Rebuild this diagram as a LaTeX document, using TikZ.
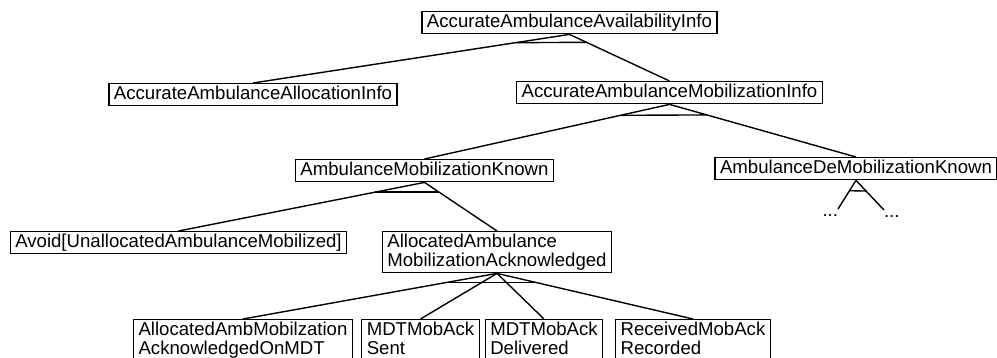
\documentclass[tikz,border=0pt]{standalone}
\usepackage{fontspec}
\setmainfont{Liberation Sans}
\usetikzlibrary{calc}

\begin{document}
\begin{tikzpicture}[x=0.5pt,y=-0.5pt,line width=0.7pt]
	\tikzstyle{goal}=[rectangle,draw,anchor=north,inner xsep=2.5pt,inner ysep=1pt,text height=7pt,text depth=2pt,font=\fontsize{9.3}{9.5}\selectfont]
	\tikzstyle{goaltwo}=[goal,align=left,text height=16.5pt]
	\tikzstyle{dots}=[inner sep=0pt,outer xsep=0pt,outer ysep=3pt,font=\fontsize{9.3}{9.5}\selectfont]
	\useasboundingbox (0,0) rectangle (997,358);
	\node[goal] (avail) at (569.5,11){AccurateAmbulanceAvailabilityInfo};
	\node[goal] (alloc) at (253,83){AccurateAmbulanceAllocationInfo};
	\node[goal] (mobinfo) at (669.5,81){AccurateAmbulanceMobilizationInfo};
	\node[goal] (mobknown) at (424.5,159){AmbulanceMobilizationKnown};
	\node[goal] (demob) at (856,157){AmbulanceDeMobilizationKnown};
	\node[goal] (avoid) at (178.5,231){Avoid[UnallocatedAmbulanceMobilized]};
	\node[goaltwo] (allocack) at (497,231){AllocatedAmbulance\\MobilizationAcknowledged};
	\node[goaltwo] (onmdt) at (243,319){AllocatedAmbMobilzation\\AcknowledgedOnMDT};
	\node[goaltwo] (sent) at (420.5,319){MDTMobAck\\Sent};
	\node[goaltwo] (delivered) at (544,319){MDTMobAck\\Delivered};
	\node[goaltwo] (recorded) at (693,319){ReceivedMobAck\\Recorded};
	\node[dots,anchor=north east] (dotsl) at (838,209){...};
	\node[dots,anchor=north west] (dotsr) at (884,210){...};
	% refinements
	\draw (avail.south) -- (alloc.north);
	\draw (avail.south) -- (mobinfo.north);
	\draw ($(avail.south)!0.17!(alloc.north)$) -- ($(avail.south)!0.17!(mobinfo.north)$);
	\draw (mobinfo.south) -- (mobknown.north);
	\draw (mobinfo.south) -- (demob.north);
	\draw ($(mobinfo.south)!0.2!(mobknown.north)$) -- ($(mobinfo.south)!0.2!(demob.north)$);
	\draw (mobknown.south) -- (avoid.north);
	\draw (mobknown.south) -- (allocack.north);
	\draw ($(mobknown.south)!0.2!(avoid.north)$) -- ($(mobknown.south)!0.2!(allocack.north)$);
	\draw (demob.south) -- (dotsl.north east);
	\draw (demob.south) -- (dotsr.north west);
	\draw ($(demob.south)!0.36!(dotsl.north east)$) -- ($(demob.south)!0.36!(dotsr.north west)$);
	\draw (allocack.south) -- (onmdt.north);
	\draw (allocack.south) -- (sent.north);
	\draw (allocack.south) -- (delivered.north);
	\draw (allocack.south) -- (recorded.north);
	\draw ($(allocack.south)!0.2!(onmdt.north)$) -- ($(allocack.south)!0.2!(recorded.north)$);
\end{tikzpicture}
\end{document}
